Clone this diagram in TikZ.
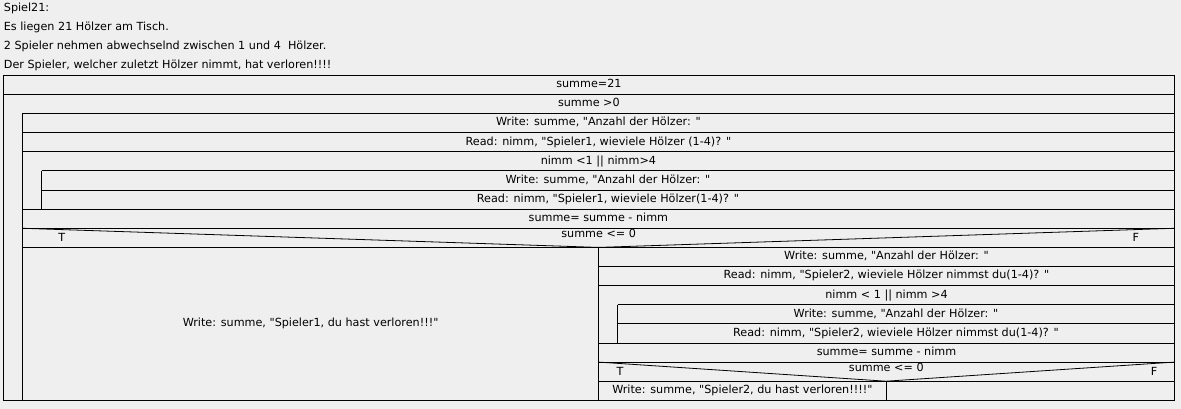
\documentclass[tikz,border=0pt]{standalone}
\usepackage{fontspec}
\setmainfont{DejaVu Sans}
\usepackage{xcolor}
\usepackage{tikz}
\usetikzlibrary{positioning}
\definecolor{bgray}{RGB}{239,239,239}
\newcommand{\quo}{\textquotedbl}

\begin{document}
\begin{tikzpicture}[x=1pt,y=-1pt,
  line width=0.8pt,
  every node/.style={inner sep=0pt,font=\fontsize{11.2}{13}\selectfont},
  cell/.style={anchor=base},
  head/.style={anchor=base west},
  flag/.style={anchor=base}
]
\useasboundingbox (0,0) rectangle (1181,409);
\fill[bgray] (0,0) rectangle (1181,409);

% the heading
\node[head] (h1) at (3.5,11.5) {Spiel21:};
\node[head] (h2) at (3.5,30.3) {Es liegen 21 Hölzer am Tisch.};
\node[head] (h3) at (3.5,49.6) {2 Spieler nehmen abwechselnd zwischen 1 und 4\ \ Hölzer.};
\node[head] (h4) at (3.5,69) {Der Spieler, welcher zuletzt Hölzer nimmt, hat verloren!!!!};

% the frame
\draw (3.5,75.3) rectangle (1174.3,400.3);

% the rows
\foreach \k/\xa/\xb in {1/3.5/1174.3, 2/22.5/1174.3, 3/22.5/1174.3, 4/22.5/1174.3,
  5/41.5/1174.3, 6/41.5/1174.3, 7/22.5/1174.3, 8/22.5/1174.3, 9/22.5/1174.3,
  10/598.7/1174.3, 11/598.7/1174.3, 12/617.7/1174.3, 13/617.7/1174.3,
  14/598.7/1174.3, 15/598.7/1174.3, 16/598.7/1174.3}
  \draw ({\xa},{75.3+19.12*\k}) -- ({\xb},{75.3+19.12*\k});

% the left edges
\draw (22.5,113.5) -- (22.5,400.3);
\draw (41.5,170.8) -- (41.5,209.1);
\draw (598.7,247.4) -- (598.7,400.3);
\draw (617.7,304.7) -- (617.7,343.0);
\draw (886,381.2) -- (886,400.3);

% the branches
\draw (22.5,228.3) -- (598.7,247.4) -- (1174.3,228.3);
\draw (598.7,362.1) -- (886,381.2) -- (1174.3,362.1);

% the texts
\foreach \k/\xa/\xb/\t in {0/3.5/1174.3/{summe=21},
  1/3.5/1174.3/{summe >0},
  2/22.5/1174.3/{Write: summe, \quo Anzahl der Hölzer: \quo},
  3/22.5/1174.3/{Read: nimm, \quo Spieler1, wieviele Hölzer (1-4)? \quo},
  4/22.5/1174.3/{nimm <1 || nimm>4},
  5/41.5/1174.3/{Write: summe, \quo Anzahl der Hölzer: \quo},
  6/41.5/1174.3/{Read: nimm, \quo Spieler1, wieviele Hölzer(1-4)? \quo},
  7/22.5/1174.3/{summe= summe - nimm},
  9/598.7/1174.3/{Write: summe, \quo Anzahl der Hölzer: \quo},
  10/598.7/1174.3/{Read: nimm, \quo Spieler2, wieviele Hölzer nimmst du(1-4)? \quo},
  11/598.7/1174.3/{nimm < 1 || nimm >4},
  12/617.7/1174.3/{Write: summe, \quo Anzahl der Hölzer: \quo},
  13/617.7/1174.3/{Read: nimm, \quo Spieler2, wieviele Hölzer nimmst du(1-4)? \quo},
  14/598.7/1174.3/{summe= summe - nimm},
  16/598.7/886/{Write: summe, \quo Spieler2, du hast verloren!!!!\quo}}
  \node[cell] (r\k) at ({(\xa+\xb)/2},{75.3+19.12*\k+12.4}) {\t};

\node[cell] (lose1) at (310.6,326.7) {Write: summe, \quo Spieler1, du hast verloren!!!\quo};

% the conditions
\node[cell] (c1) at (598.7,237.9) {summe <= 0};
\node[flag] (t1) at (61.7,241.1) {T};
\node[flag] (f1) at (1135.8,241.1) {F};
\node[cell] (c2) at (886.3,371.8) {summe <= 0};
\node[flag] (t2) at (620,375) {T};
\node[flag] (f2) at (1154,375) {F};

\end{tikzpicture}
\end{document}
